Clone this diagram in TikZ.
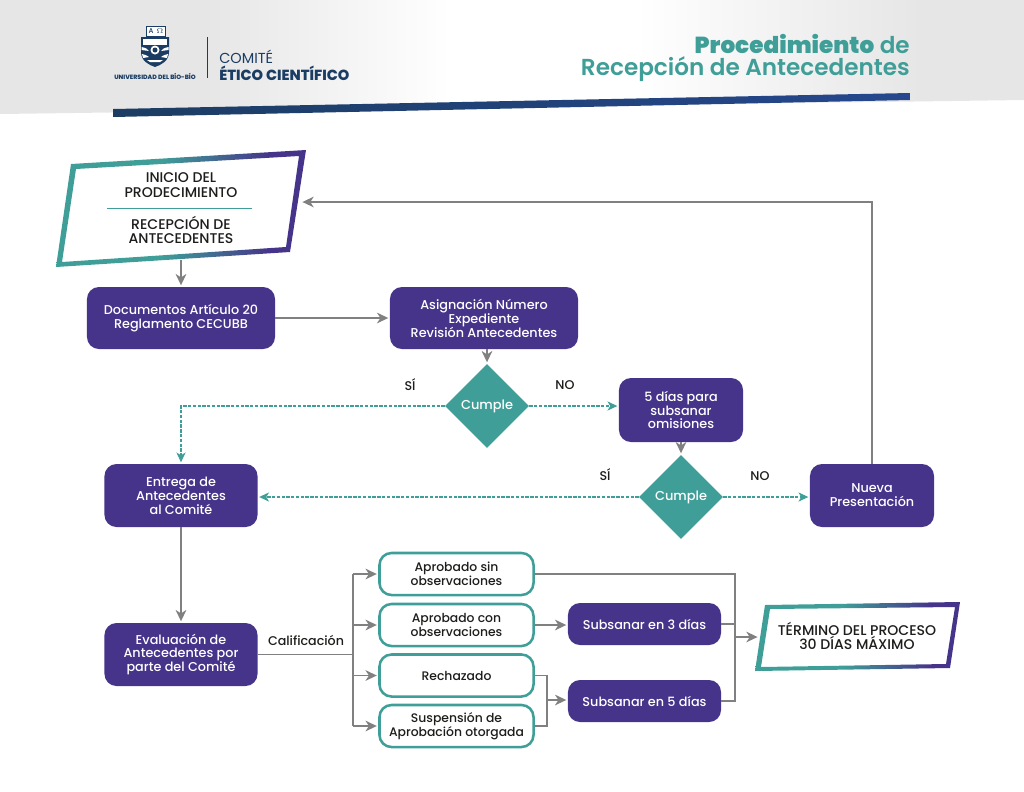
\documentclass[tikz,border=0pt]{standalone}
\usepackage{fontspec}
\setmainfont{Poppins Medium}[BoldFont=Poppins ExtraBold]
\newfontfamily\lightfont{Poppins}
\newfontfamily\semifont{Poppins SemiBold}
\usetikzlibrary{arrows.meta,calc,shapes.geometric}
\definecolor{purplec}{HTML}{46338A}
\definecolor{tealc}{HTML}{3F9F98}
\definecolor{greyc}{HTML}{808080}
\definecolor{navyc}{HTML}{1B3D63}
\definecolor{bluec}{HTML}{26478D}
\definecolor{inkc}{HTML}{1D1D1B}
\definecolor{headc}{HTML}{E6E6E6}
\pgfdeclarehorizontalshading{headgrad}{100bp}{color(0bp)=(headc); color(35bp)=(headc); color(47bp)=(white); color(56bp)=(white); color(70bp)=(headc); color(100bp)=(headc)}
\pgfdeclarehorizontalshading{framegrad}{100bp}{color(0bp)=(tealc); color(46bp)=(tealc); color(68bp)=(purplec); color(100bp)=(purplec)}
\tikzset{
	darkbox/.style={fill=purplec, text=white, rounded corners=0.3cm, align=center, inner sep=0pt, font=\fontsize{9.1}{9.9}\selectfont},
	lightbox/.style={draw=tealc, line width=1.8pt, fill=white, text=inkc, rounded corners=0.3cm, align=center, inner sep=0pt, minimum width=3.85cm, minimum height=1.05cm, font=\fontsize{8.8}{9.8}\selectfont},
	cumplebox/.style={shape=diamond, fill=tealc, text=white, aspect=1, inner sep=0pt, minimum width=2.1cm, minimum height=2.1cm, font=\fontsize{9.2}{10}\selectfont},
	framelabel/.style={text=inkc, align=center, inner sep=0pt, font=\fontsize{10}{10.2}\selectfont},
	answer/.style={text=inkc, inner sep=0pt, font=\fontsize{9}{10}\selectfont},
	arrowline/.style={draw=greyc, line width=1.3pt, -{Stealth[length=8pt,width=7.5pt,inset=2.4pt]}, shorten >=1pt},
	plainline/.style={draw=greyc, line width=1.3pt},
	dashline/.style={draw=tealc, line width=0.75pt, dash pattern=on 2.4pt off 1pt, -{Stealth[length=7pt,width=6.5pt,inset=2pt]}, shorten >=1pt},
}
\begin{document}
\begin{tikzpicture}[x=0.025cm, y=-0.025cm]
	\useasboundingbox (0,0) rectangle (1024,791);
	%%%%% HEADER %%%%%
	\shade[shading=headgrad] (0,0) -- (1024,0) -- (1024,100) -- (0,114) -- cycle;
	\shade[left color=navyc, right color=bluec] (113,109) -- (910,93) -- (910,100) -- (113,117) -- cycle;
	
	%%%%% LOGO %%%%%
	\draw[navyc, line width=0.5pt, fill=white] (146,26) rectangle (165,36);
	\node[text=navyc, inner sep=0pt, font=\fontsize{5}{5}\selectfont] at (151,31) {A};
	\node[text=navyc, inner sep=0pt, font=\fontsize{5}{5}\selectfont] at (160,31) {$\Omega$};
	\fill[navyc] (141,37) -- (169,37) -- (169,52) .. controls (169,61) and (161,65) .. (155,67) .. controls (149,65) and (141,61) .. (141,52) -- cycle;
	\fill[white] (143,39) -- (167,39) -- (167,45) -- (143,45) -- cycle;
	\fill[white] (141.5,47) .. controls (146,48) and (148,49) .. (149,51) -- (141.5,50) -- cycle;
	\fill[white] (168.5,47) .. controls (164,48) and (162,49) .. (161,51) -- (168.5,50) -- cycle;
	\fill[white] (142,54) .. controls (146,55) and (148,56) .. (149,57) -- (143,58) -- cycle;
	\fill[white] (168,54) .. controls (164,55) and (162,56) .. (161,57) -- (167,58) -- cycle;
	\fill[white] (155,50) circle (4.5);
	\fill[navyc] (155,50) circle (2.5);
	\fill[white] (147,60) -- (163,60) -- (160,62) -- (150,62) -- cycle;
	\node[text=navyc, inner sep=0pt, font=\bfseries\fontsize{4.4}{4.4}\selectfont] at (155,76) {UNIVERSIDAD DEL BÍO-BÍO};
	\draw[navyc, line width=0.7pt] (207,37) -- (207,78);
	\node[anchor=west, text=navyc, inner sep=0pt, font=\lightfont\fontsize{10.3}{11}\selectfont] at (219,57) {COMITÉ};
	\node[anchor=west, text=navyc, inner sep=0pt, font=\bfseries\fontsize{10.4}{11}\selectfont] at (219,73) {ÉTICO CIENTÍFICO};
	
	%%%%% TITLE %%%%%
	\node[anchor=east, align=right, text=tealc, inner sep=0pt, font=\semifont\fontsize{16.45}{15.8}\selectfont] (titulo) at (910,58) {{\bfseries Procedimiento} de\\Recepción de Antecedentes};
	
	%%%%% FRAMES %%%%%
	\shade[shading=framegrad, even odd rule] (71,164) -- (306,150) -- (290,252) -- (56,267) -- cycle (76,169) -- (299,156) -- (286,247) -- (62,262) -- cycle;
	\node[framelabel] (inicioa) at (181,185) {INICIO DEL\\PRODECIMIENTO};
	\node[framelabel] (iniciob) at (181,230) {RECEPCIÓN DE\\ANTECEDENTES};
	\draw[tealc, line width=0.5pt] (107,208) -- (252,208);
	\coordinate (iniciosur) at (181,260);
	\coordinate (inicioeste) at (301,202);
	
	\shade[shading=framegrad, even odd rule] (765,605) -- (960,602) -- (950,668) -- (755,671) -- cycle (770,609) -- (955,607) -- (946,664) -- (761,667) -- cycle;
	\node[framelabel] (termino) at (857,636) {TÉRMINO DEL PROCESO\\30 DÍAS MÁXIMO};
	\coordinate (terminooeste) at (759,637);
	
	%%%%% BOXES %%%%%
	\node[darkbox, minimum width=4.7cm, minimum height=1.55cm] (documentos) at (181,318) {Documentos Artículo 20\\Reglamento CECUBB};
	\node[darkbox, minimum width=4.7cm, minimum height=1.55cm] (asignacion) at (484,318) {Asignación Número\\Expediente\\Revisión Antecedentes};
	\node[cumplebox] (cumplea) at (487,406) {Cumple};
	\node[darkbox, minimum width=3.1cm, minimum height=1.6cm] (omisiones) at (681,410) {5 días para\\subsanar\\omisiones};
	\node[cumplebox] (cumpleb) at (681,497) {Cumple};
	\node[darkbox, minimum width=3.1cm, minimum height=1.575cm] (nueva) at (872,495.5) {Nueva\\Presentación};
	\node[darkbox, minimum width=3.825cm, minimum height=1.575cm] (entrega) at (181,495.5) {Entrega de\\Antecedentes\\al Comité};
	\node[darkbox, minimum width=3.825cm, minimum height=1.575cm] (evaluacion) at (181,654.5) {Evaluación de\\Antecedentes por\\parte del Comité};
	
	\node[lightbox] (sinobs) at (456.5,574) {Aprobado sin\\observaciones};
	\node[lightbox] (conobs) at (456.5,625) {Aprobado con\\observaciones};
	\node[lightbox] (rechazado) at (456.5,675.5) {Rechazado};
	\node[lightbox] (suspension) at (456.5,726) {Suspensión de\\Aprobación otorgada};
	\node[darkbox, minimum width=3.825cm, minimum height=1.05cm] (subsanart) at (644.5,624) {Subsanar en 3 días};
	\node[darkbox, minimum width=3.825cm, minimum height=1.05cm] (subsanarc) at (644.5,701) {Subsanar en 5 días};
	
	%%%%% LABELS %%%%%
	\node[answer] (sia) at (410,385) {SÍ};
	\node[answer] (noa) at (565,385) {NO};
	\node[answer] (sib) at (605,475) {SÍ};
	\node[answer] (nob) at (760,476) {NO};
	\node[answer] (calificacion) at (306,640) {Calificación};
	
	%%%%% CONNECTORS %%%%%
	\draw[arrowline] (iniciosur) -- (documentos.north);
	\draw[arrowline] (documentos) -- (asignacion);
	\draw[arrowline] (cumplea |- asignacion.south) -- (cumplea.north);
	\draw[dashline] (cumplea.east) -- (cumplea.east -| omisiones.west);
	\draw[dashline] (cumplea.west) -| (entrega.north);
	\draw[arrowline] (omisiones) -- (cumpleb);
	\draw[dashline] (cumpleb.west) -- (cumpleb.west -| entrega.east);
	\draw[dashline] (cumpleb.east) -- (cumpleb.east -| nueva.west);
	\draw[arrowline] (nueva.north) |- (inicioeste);
	\draw[arrowline] (entrega) -- (evaluacion);
	
	\coordinate (rama) at (353,654);
	\draw[plainline] (evaluacion.east) -- (evaluacion.east -| rama);
	\draw[plainline] (rama |- sinobs) -- (rama |- suspension);
	\draw[arrowline] (rama |- sinobs) -- (sinobs);
	\draw[arrowline] (rama |- conobs) -- (conobs);
	\draw[arrowline] (rama |- rechazado) -- (rechazado);
	\draw[arrowline] (rama |- suspension) -- (suspension);
	\draw[arrowline] (conobs) -- (conobs -| subsanart.west);
	
	\coordinate (junta) at (547,700);
	\draw[plainline] (rechazado.east) -| (junta);
	\draw[plainline] (suspension.east) -| (junta);
	\draw[arrowline] (junta) -- (junta -| subsanarc.west);
	
	\coordinate (cierre) at (735,637);
	\draw[plainline] (sinobs.east) -| (cierre);
	\draw[plainline] (subsanart.east) -| (cierre);
	\draw[plainline] (subsanarc.east) -| (cierre);
	\draw[arrowline] (cierre) -- (terminooeste);
\end{tikzpicture}
\end{document}
